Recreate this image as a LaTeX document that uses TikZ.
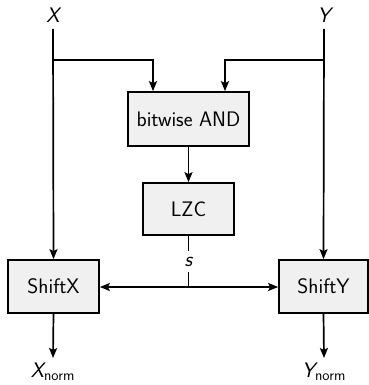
\documentclass[tikz,border=0pt]{standalone}
\usetikzlibrary{arrows.meta}
\begin{document}
\begin{tikzpicture}[x=1pt,y=-1pt,
  every node/.style={font=\sffamily\fontsize{21}{24}\selectfont},
  blk/.style={draw, line width=1.7pt, fill=black!6, inner sep=0pt},
  wire/.style={line width=1.7pt},
  arr/.style={wire, -{Stealth[length=10pt,width=8pt,inset=2pt]}},
  lbl/.style={inner sep=0pt}]
\useasboundingbox (0,0) rectangle (368,385);
\node[lbl] (X) at (53,15) {\itshape X};
\node[lbl] (Y) at (324,15) {\itshape Y};
\coordinate (xt) at (53,29);
\coordinate (yt) at (324,29);
\coordinate (xb) at (53,60);
\coordinate (yb) at (324,60);
\node[blk, minimum width=121pt, minimum height=54pt] (band) at (188.5,119) {bitwise AND};
\node[blk, minimum width=91pt, minimum height=52pt] (lzc) at (188.5,209) {LZC};
\node[blk, minimum width=91pt, minimum height=53pt] (sx) at (53.5,286.5) {ShiftX};
\node[blk, minimum width=89pt, minimum height=53pt] (sy) at (323.5,286.5) {ShiftY};
\node[lbl, minimum height=21pt] (s) at (188.5,261.5) {\itshape s};
\coordinate (j) at (188.5,287);
\coordinate (xo) at (53,358);
\coordinate (yo) at (324,358);
\node[lbl] (Xn) at (53,372) {\itshape X\textsubscript{\upshape norm}};
\node[lbl] (Yn) at (324,372) {\itshape Y\textsubscript{\upshape norm}};
\draw[arr] (xt) -- (sx.north);
\draw[arr] (yt) -- (sy.north);
\draw[arr] (xb) -| ([xshift=-35.5pt]band.north);
\draw[arr] (yb) -| ([xshift=36.5pt]band.north);
\draw[arr] (band.south) -- (lzc.north);
\draw[wire] (lzc.south) -- (s.north);
\draw[wire] (s.south) -- (j);
\draw[arr] (j) -- (sx.east |- j);
\draw[arr] (j) -- (sy.west |- j);
\draw[arr] (sx.south) -- (xo);
\draw[arr] (sy.south) -- (yo);
\end{tikzpicture}
\end{document}
